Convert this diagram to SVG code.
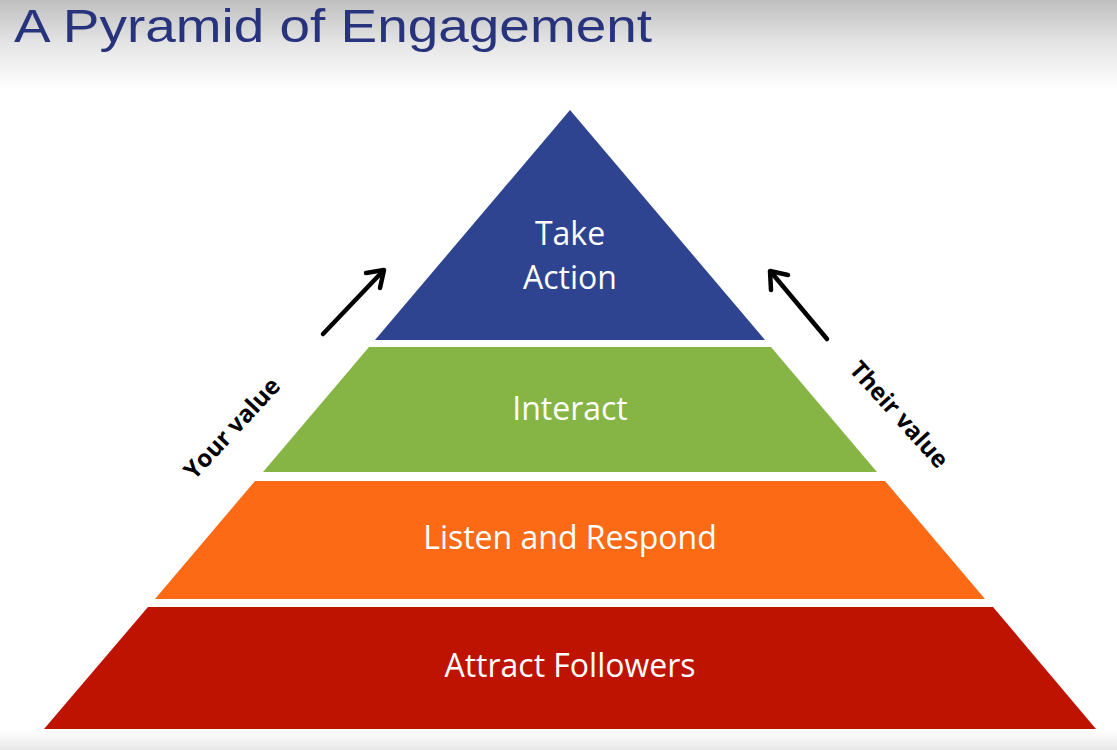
<svg xmlns="http://www.w3.org/2000/svg" width="1117" height="750" viewBox="0 0 1117 750">
<defs>
<linearGradient id="top" x1="0" y1="0" x2="0" y2="1">
<stop offset="0" stop-color="#bfbfbf"/>
<stop offset="0.5" stop-color="#e6e6e6"/>
<stop offset="1" stop-color="#ffffff"/>
</linearGradient>
<linearGradient id="bot" x1="0" y1="0" x2="0" y2="1">
<stop offset="0" stop-color="#ffffff"/>
<stop offset="1" stop-color="#e8e8e8"/>
</linearGradient>
<style>
.lbl{font-family:"Open Sans","Noto Sans",sans-serif;font-size:32px;fill:#ffffff;text-anchor:middle}
.side{font-family:"Open Sans","Noto Sans",sans-serif;font-size:24px;font-weight:bold;fill:#000;text-anchor:middle}
.arr{stroke:#000;stroke-width:4.5;stroke-linecap:round;stroke-linejoin:round;fill:none}
</style>
</defs>
<rect width="1117" height="750" fill="#ffffff"/>
<rect width="1117" height="90" fill="url(#top)"/>
<rect y="730" width="1117" height="20" fill="url(#bot)"/>
<text x="14" y="42" font-family="Liberation Sans, Arial, sans-serif" font-size="47" fill="#27337d" textLength="638" lengthAdjust="spacingAndGlyphs">A Pyramid of Engagement</text>
<g id="take-action">
<polygon points="570,110 765,340 375,340" fill="#2f4490"/>
<text class="lbl" x="570" y="245">Take</text>
<text class="lbl" x="570" y="289">Action</text>
</g>
<g id="interact">
<polygon points="369,347 771,347 877,472 263,472" fill="#87b545"/>
<text class="lbl" x="570" y="420">Interact</text>
</g>
<g id="listen-respond">
<polygon points="255,481 885,481 985,599 155,599" fill="#fd6a16"/>
<text class="lbl" x="570" y="549">Listen and Respond</text>
</g>
<g id="attract-followers">
<polygon points="148,607 993,607 1096,729 44,729" fill="#bf1302"/>
<text class="lbl" x="570" y="677">Attract Followers</text>
</g>
<g id="connectors">
<line class="arr" x1="323" y1="334" x2="383" y2="271"/>
<polyline class="arr" points="366,273 384,270 380,288"/>
<line class="arr" x1="827" y1="339" x2="771" y2="272"/>
<polyline class="arr" points="771,290 770,271 788,275"/>
</g>
<text class="side" transform="translate(238,434) rotate(-47)">Your value</text>
<text class="side" transform="translate(893,420) rotate(48)">Their value</text>
</svg>
